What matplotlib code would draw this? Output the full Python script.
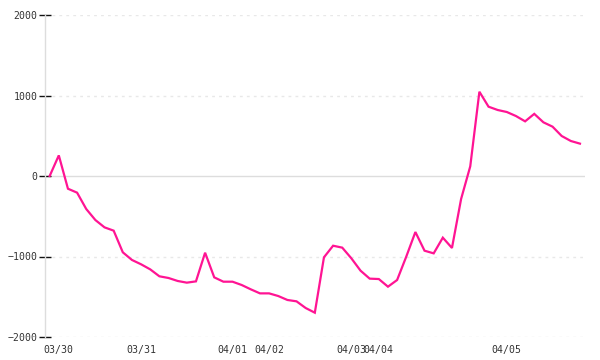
import matplotlib
matplotlib.use("Agg")
import matplotlib.pyplot as plt

values = [0, 256, -158, -207, -410, -547, -638, -679, -948, -1043,
          -1097, -1160, -1246, -1267, -1304, -1325, -1309, -953, -1259, -1313,
          -1313, -1354, -1408, -1458, -1458, -1491, -1540, -1557, -1640, -1698,
          -1010, -866, -890, -1023, -1176, -1275, -1280, -1375, -1292, -1002,
          -696, -928, -961, -766, -894, -285, 120, 1047, 861, 820,
          795, 745, 679, 772, 667, 613, 497, 435, 402]
tick_idx = [1, 10, 20, 24, 33, 36, 50]
tick_labels = ["03/30", "03/31", "04/01", "04/02", "04/03", "04/04", "04/05"]
y_ticks = [-2000, -1000, 0, 1000, 2000]

fig = plt.figure(figsize=(6, 3.6), dpi=100)
ax = fig.add_axes([0.075, 0.0639, 0.9, 0.8944])
x = list(range(len(values)))

for yv in y_ticks:
    if yv == 0:
        ax.axhline(yv, color="#dddddd", lw=1.0, zorder=1)
    else:
        ax.axhline(yv, color="#e8e8e8", lw=1.0, ls=(0, (2, 3)), zorder=1)

ax.plot(x, values, color="#ff1493", lw=1.6, solid_joinstyle="miter", zorder=3)

ax.set_xlim(-0.51, 58.55)
ax.set_ylim(-2000, 2000)
ax.set_yticks(y_ticks)
ax.set_yticklabels([str(v).replace("-", "\u2212") for v in y_ticks])
ax.set_xticks(tick_idx)
ax.set_xticklabels(tick_labels)

for s in ["top", "right", "bottom"]:
    ax.spines[s].set_visible(False)
ax.spines["left"].set_color("#dddddd")
ax.spines["left"].set_linewidth(1.0)

ax.tick_params(axis="y", direction="inout", length=8, width=1, color="#111111",
               pad=1.5, labelsize=7.1, labelcolor="#333333")
ax.tick_params(axis="x", length=0, pad=6, labelsize=7.1, labelcolor="#333333")
for lab in ax.get_xticklabels() + ax.get_yticklabels():
    lab.set_family("DejaVu Sans Mono")

fig.savefig("out.png", dpi=100)
